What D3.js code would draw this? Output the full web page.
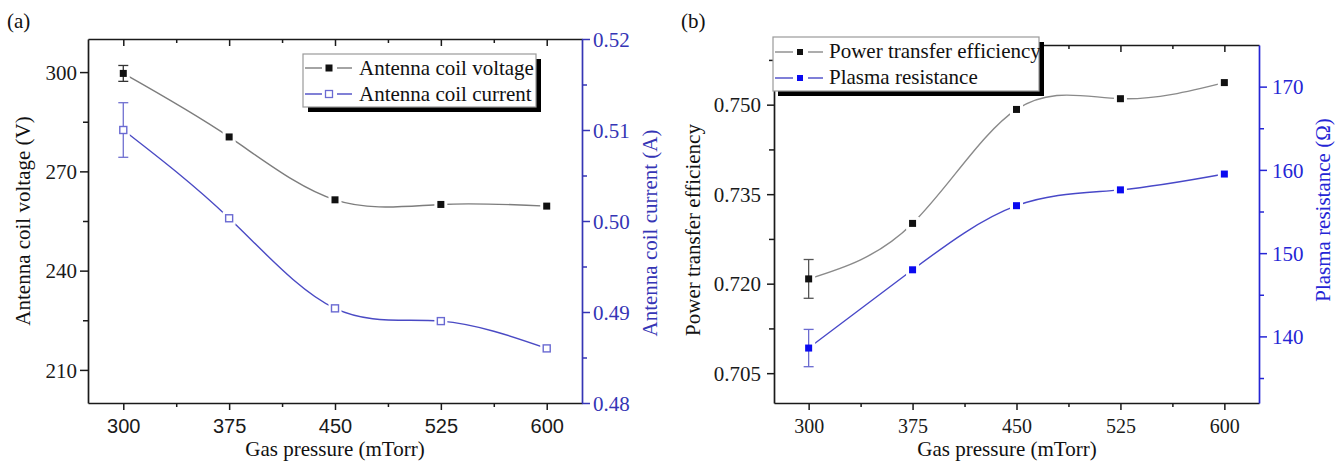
<!DOCTYPE html>
<html><head><meta charset="utf-8">
<script src="https://cdn.jsdelivr.net/npm/d3@7"></script>
<style>body{margin:0;background:#fff}svg{display:block}</style>
</head><body><svg id="c" width="1344" height="463"></svg>
<script>
// ---------- data ----------
const pressure = [300, 375, 450, 525, 600];
const pressureTicks = [300, 375, 450, 525, 600];
const pressureMinor = [337.5, 412.5, 487.5, 562.5];

const coilVoltage = [299.6, 280.4, 261.4, 260.0, 259.5];
const coilVoltageErr = [2.4, 0, 0, 0, 0];
const coilCurrent = [0.5100, 0.5003, 0.4904, 0.4890, 0.4860];
const coilCurrentErr = [0.0030, 0, 0, 0, 0];

const efficiency = [0.7208, 0.7301, 0.7492, 0.7510, 0.7537];
const efficiencyErr = [0.00325, 0, 0, 0, 0];
const resistance = [138.6, 148.0, 155.7, 157.6, 159.5];
const resistanceErr = [2.24, 0, 0, 0, 0];

const voltageTicks = [210, 240, 270, 300];
const voltageMinor = [225, 255, 285];
const currentTicks = [0.48, 0.49, 0.50, 0.51, 0.52];
const currentMinor = [0.485, 0.495, 0.505, 0.515];
const efficiencyTicks = [0.705, 0.720, 0.735, 0.750];
const efficiencyMinor = [0.7125, 0.7275, 0.7425, 0.7575];
const resistanceTicks = [140, 150, 160, 170];
const resistanceMinor = [135, 145, 155, 165];

const legendA = ["Antenna coil voltage", "Antenna coil current"];
const legendB = ["Power transfer efficiency", "Plasma resistance"];

// ---------- setup ----------
const svg = d3.select("#c");
const SERIF = "'Liberation Serif','Times New Roman',serif";
const SANS = "'Liberation Sans',Arial,sans-serif";
const FS = 21;

const xa = d3.scaleLinear().domain([275, 625]).range([88, 582]);
const yaL = d3.scaleLinear().domain([200, 310]).range([403, 39]);
const yaR = d3.scaleLinear().domain([0.48, 0.52]).range([403, 39]);

const xb = d3.scaleLinear().domain([275, 625]).range([774, 1259]);
const ybL = d3.scaleLinear().domain([0.700, 0.760]).range([403, 45]);
const ybR = d3.scaleLinear().domain([132, 175]).range([403, 45]);

function styleAxis(g, color, font, showDomain) {
  g.attr("font-family", font).attr("font-size", FS);
  g.select(".domain").attr("stroke", color).attr("stroke-width", 1.7)
    .attr("display", showDomain ? null : "none");
  g.selectAll(".tick line").attr("stroke", color).attr("stroke-width", 1.5);
  g.selectAll(".tick text").attr("fill", color);
}

function drawAxis(gen, ticks, minor, size, msize, fmt, transform, color, font, showDomain) {
  const g = svg.append("g").attr("transform", transform);
  g.call(gen.tickValues(ticks).tickSize(size).tickSizeOuter(0).tickFormat(fmt));
  styleAxis(g, color, font, showDomain);
  const gm = svg.append("g").attr("transform", transform);
  gm.call(gen.tickValues(minor).tickSize(msize).tickSizeOuter(0).tickFormat(() => ""));
  styleAxis(gm, color, font, false);
  return g;
}

function series(x, y, vals, errs, opt) {
  const pts = pressure.map((p, i) => ({ px: x(p), py: y(vals[i]), v: vals[i], e: errs[i] }));
  const line = d3.line().x(d => d.px).y(d => d.py).curve(d3.curveNatural);
  svg.append("path").datum(pts).attr("d", line).attr("fill", "none")
    .attr("stroke", opt.line).attr("stroke-width", 1.4);
  const s = opt.size;
  // white halo gaps
  svg.append("g").selectAll("rect").data(pts).join("rect")
    .attr("x", d => d.px - s / 2 - 3).attr("y", d => d.py - s / 2 - 3)
    .attr("width", s + 6).attr("height", s + 6).attr("fill", "#fff");
  // error bars
  const eg = svg.append("g").attr("stroke", opt.err).attr("stroke-width", 1.3);
  pts.filter(d => d.e > 0).forEach(d => {
    const t = y(d.v + d.e), b = y(d.v - d.e);
    eg.append("line").attr("x1", d.px).attr("x2", d.px).attr("y1", t).attr("y2", b);
    eg.append("line").attr("x1", d.px - 5).attr("x2", d.px + 5).attr("y1", t).attr("y2", t);
    eg.append("line").attr("x1", d.px - 5).attr("x2", d.px + 5).attr("y1", b).attr("y2", b);
  });
  svg.append("g").selectAll("rect").data(pts).join("rect")
    .attr("x", d => d.px - s / 2).attr("y", d => d.py - s / 2)
    .attr("width", s).attr("height", s)
    .attr("fill", opt.open ? "#fff" : opt.marker)
    .attr("stroke", opt.open ? opt.marker : "none").attr("stroke-width", 1.4);
}

function legend(box, rows, names) {
  svg.append("rect").attr("x", box.x + 5).attr("y", box.y + 5)
    .attr("width", box.w).attr("height", box.h).attr("fill", "#000");
  svg.append("rect").attr("x", box.x).attr("y", box.y).attr("width", box.w).attr("height", box.h)
    .attr("fill", "#fff").attr("stroke", "#9a9a9a").attr("stroke-width", 1.2);
  rows.forEach((r, i) => {
    const yy = r.my;
    svg.append("line").attr("x1", box.s0).attr("x2", box.s1).attr("y1", yy).attr("y2", yy)
      .attr("stroke", r.line).attr("stroke-width", 1.4);
    svg.append("line").attr("x1", box.s2).attr("x2", box.s3).attr("y1", yy).attr("y2", yy)
      .attr("stroke", r.line).attr("stroke-width", 1.4);
    const s = r.size;
    svg.append("rect").attr("x", box.mx - s / 2).attr("y", yy - s / 2).attr("width", s).attr("height", s)
      .attr("fill", r.open ? "#fff" : r.marker).attr("stroke", r.open ? r.marker : "none").attr("stroke-width", 1.3);
    svg.append("text").attr("x", box.tx).attr("y", r.base).text(names[i])
      .attr("font-family", SERIF).attr("font-size", FS).attr("fill", "#111");
  });
}

function title(x, y, txt, color, rot) {
  const t = svg.append("text").attr("x", x).attr("y", y).text(txt)
    .attr("font-family", SERIF).attr("font-size", FS).attr("fill", color)
    .attr("text-anchor", "middle").attr("dominant-baseline", "central");
  if (rot) t.attr("transform", `rotate(-90,${x},${y})`);
}

// ---------- panel (a) ----------
const cA = "#1a1a1a", bA = "#3535b5";
drawAxis(d3.axisTop(xa), pressureTicks, pressureMinor, -7, -4, () => "", "translate(0,39)", cA, SANS, true);
const axA = drawAxis(d3.axisBottom(xa), pressureTicks, pressureMinor, 7, 4, d3.format("d"), "translate(0,403)", cA, SANS, true);
axA.selectAll(".tick text").attr("y", 16).attr("dy", "0.71em").attr("font-size", 20);
const ayA = drawAxis(d3.axisLeft(yaL), voltageTicks, voltageMinor, 8, 5, d3.format("d"), "translate(88,0)", cA, SERIF, true);
ayA.selectAll(".tick text").attr("x", -11).attr("dy", "0.34em");
const ayAR = drawAxis(d3.axisRight(yaR), currentTicks, currentMinor, 8, 5, d3.format(".2f"), "translate(582,0)", bA, SERIF, true);
ayAR.selectAll(".tick text").attr("x", 11).attr("dy", "0.34em");

series(xa, yaL, coilVoltage, coilVoltageErr, { line: "#7d7d7d", marker: "#111", err: "#333", size: 7 });
series(xa, yaR, coilCurrent, coilCurrentErr, { line: "#4a4ac4", marker: "#6a6ad2", err: "#7070d0", size: 7, open: true });

legend({ x: 303, y: 54, w: 233, h: 53, s0: 305, s1: 322, s2: 337, s3: 352, mx: 329, tx: 359 }, [
  { my: 68, base: 75, line: "#7d7d7d", marker: "#111", size: 7 },
  { my: 94, base: 101, line: "#4a4ac4", marker: "#6a6ad2", size: 7, open: true }
], legendA);

title(23, 221, "Antenna coil voltage (V)", "#111", true);
title(650, 233, "Antenna coil current (A)", bA, true);
svg.append("text").attr("x", 335).attr("y", 456).attr("text-anchor", "middle")
  .attr("font-family", SERIF).attr("font-size", FS).attr("fill", "#111").text("Gas pressure (mTorr)");
svg.append("text").attr("x", 7).attr("y", 28).attr("font-family", SERIF).attr("font-size", FS)
  .attr("fill", "#111").text("(a)");

// ---------- panel (b) ----------
const cB = "#1a1a1a", bB = "#2525d5";
drawAxis(d3.axisTop(xb), pressureTicks, pressureMinor, -7, -4, () => "", "translate(0,45)", cB, SERIF, true);
const axB = drawAxis(d3.axisBottom(xb), pressureTicks, pressureMinor, 7, 4, d3.format("d"), "translate(0,403)", cB, SERIF, true);
axB.selectAll(".tick text").attr("y", 16).attr("dy", "0.71em").attr("font-size", 20);
const ayB = drawAxis(d3.axisLeft(ybL), efficiencyTicks, efficiencyMinor, 7, 5, d3.format(".3f"), "translate(774,0)", cB, SERIF, true);
ayB.selectAll(".tick text").attr("x", -13).attr("dy", "0.34em");
const ayBR = drawAxis(d3.axisRight(ybR), resistanceTicks, resistanceMinor, 8, 5, d3.format("d"), "translate(1259,0)", bB, SERIF, true);
ayBR.selectAll(".tick text").attr("x", 13).attr("dy", "0.34em");

series(xb, ybL, efficiency, efficiencyErr, { line: "#8a8a8a", marker: "#111", err: "#555", size: 7 });
series(xb, ybR, resistance, resistanceErr, { line: "#4848c8", marker: "#0a0af0", err: "#6a6ad0", size: 7 });

legend({ x: 773, y: 37, w: 266, h: 54, s0: 775, s1: 793, s2: 808, s3: 823, mx: 800, tx: 829 }, [
  { my: 52, base: 58, line: "#8a8a8a", marker: "#111", size: 6 },
  { my: 78, base: 84, line: "#4848c8", marker: "#0a0af0", size: 6 }
], legendB);

title(693, 230, "Power transfer efficiency", "#111", true);
title(1323, 210, "Plasma resistance (\u03A9)", bB, true);
svg.append("text").attr("x", 1007).attr("y", 456).attr("text-anchor", "middle")
  .attr("font-family", SERIF).attr("font-size", FS).attr("fill", "#111").text("Gas pressure (mTorr)");
svg.append("text").attr("x", 681).attr("y", 28).attr("font-family", SERIF).attr("font-size", FS)
  .attr("fill", "#111").text("(b)");
</script></body></html>
